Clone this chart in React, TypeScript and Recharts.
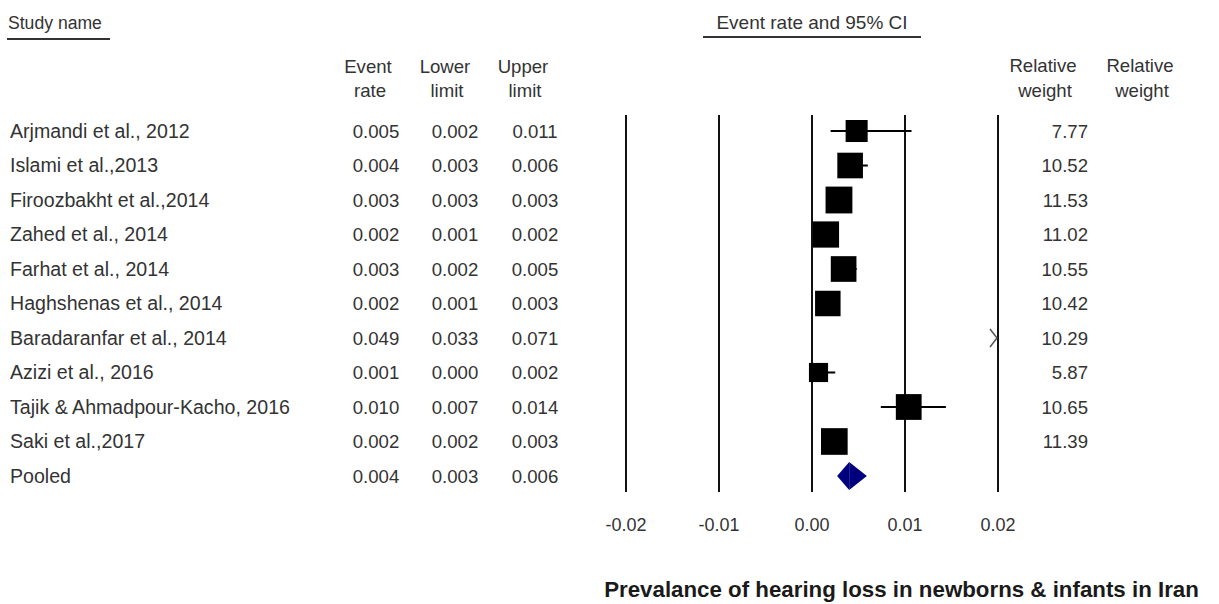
import React from 'react';
import { ScatterChart, Scatter, XAxis, YAxis, ReferenceLine } from 'recharts';

// table text, as printed in the figure
const studyNames = [
  'Arjmandi et al., 2012',
  'Islami et al.,2013',
  'Firoozbakht et al.,2014',
  'Zahed et al., 2014',
  'Farhat et al., 2014',
  'Haghshenas et al., 2014',
  'Baradaranfar et al., 2014',
  'Azizi et al., 2016',
  'Tajik & Ahmadpour-Kacho, 2016',
  'Saki et al.,2017',
  'Pooled',
];
const eventRateText = ['0.005', '0.004', '0.003', '0.002', '0.003', '0.002', '0.049', '0.001', '0.010', '0.002', '0.004'];
const lowerLimitText = ['0.002', '0.003', '0.003', '0.001', '0.002', '0.001', '0.033', '0.000', '0.007', '0.002', '0.003'];
const upperLimitText = ['0.011', '0.006', '0.003', '0.002', '0.005', '0.003', '0.071', '0.002', '0.014', '0.003', '0.006'];
const relativeWeight = [7.77, 10.52, 11.53, 11.02, 10.55, 10.42, 10.29, 5.87, 10.65, 11.39];

// plotted estimates (unrounded)
const pointRate = [0.0048, 0.0041, 0.0029, 0.0015, 0.0034, 0.0017, 0.049, 0.0007, 0.0104, 0.0024];
const pointLower = [0.002, 0.003, 0.0026, 0.001, 0.0024, 0.0011, 0.033, 0.0, 0.0074, 0.0019];
const pointUpper = [0.0107, 0.006, 0.0033, 0.0021, 0.0048, 0.0026, 0.071, 0.0025, 0.0144, 0.003];
const pooledRate = 0.004;
const pooledLower = 0.0027;
const pooledUpper = 0.0059;

const xTicks = [-0.02, -0.01, 0, 0.01, 0.02];
const X_MIN = -0.02;
const X_MAX = 0.02;

const FONT = '"Liberation Sans", Arial, sans-serif';
const TEXT = '#333';
const POOLED_ROW = studyNames.length - 1;
const rowTicks = studyNames.map((_, i) => i);

const studyPoints = pointRate.map((x, i) => ({ x, y: i, w: relativeWeight[i] }));
const overflowPoints = pointRate
  .map((x, i) => ({ x, y: i }))
  .filter((p) => p.x > X_MAX)
  .map((p) => ({ x: X_MAX, y: p.y }));

const RowTick = (props: any) => {
  const { y, payload } = props;
  const i = payload.value;
  return (
    <g fontFamily={FONT} fill={TEXT}>
      <text x={10} y={y} dy="0.35em" fontSize={19.6}>
        {studyNames[i]}
      </text>
      <text x={376} y={y} dy="0.35em" fontSize={18.6} textAnchor="middle">
        {eventRateText[i]}
      </text>
      <text x={455} y={y} dy="0.35em" fontSize={18.6} textAnchor="middle">
        {lowerLimitText[i]}
      </text>
      <text x={535} y={y} dy="0.35em" fontSize={18.6} textAnchor="middle">
        {upperLimitText[i]}
      </text>
      {relativeWeight[i] != null && (
        <text x={1088} y={y} dy="0.35em" fontSize={18.6} textAnchor="end">
          {relativeWeight[i].toFixed(2)}
        </text>
      )}
    </g>
  );
};

const SquareShape = (props: any) => {
  const { cx, cy, payload } = props;
  const side = 7.9 * Math.sqrt(payload.w);
  return <rect x={cx - side / 2} y={cy - side / 2} width={side} height={side} fill="#000" />;
};

const ArrowShape = (props: any) => {
  const { cx, cy } = props;
  return (
    <polyline
      points={`${cx - 8},${cy - 9} ${cx - 1},${cy} ${cx - 8},${cy + 9}`}
      fill="none"
      stroke="#555"
      strokeWidth={1.5}
    />
  );
};

// left and right halves of the pooled diamond
const DiamondLeft = (props: any) => {
  const { x1, y1, x2, y2 } = props;
  return <polygon points={`${x1},${y1} ${x2},${y2 - 14} ${x2},${y2 + 14}`} fill="#00007f" />;
};
const DiamondRight = (props: any) => {
  const { x1, y1, x2, y2 } = props;
  return <polygon points={`${x1},${y1 - 14} ${x2},${y2} ${x1},${y1 + 14}`} fill="#00007f" />;
};

const Headers = () => (
  <g fontFamily={FONT} fill={TEXT} fontSize={18.6}>
    <text x={8} y={23} dy="0.35em" fontSize={17.6}>
      Study name
    </text>
    <line x1={7} x2={110} y1={39} y2={39} stroke="#333" strokeWidth={2} />
    <text x={812} y={22} dy="0.35em" textAnchor="middle" fontSize={19}>
      Event rate and 95% CI
    </text>
    <line x1={703} x2={921} y1={37} y2={37} stroke="#333" strokeWidth={2} />

    <text x={368} y={66} dy="0.35em" textAnchor="middle">Event</text>
    <text x={370} y={90} dy="0.35em" textAnchor="middle">rate</text>
    <text x={445} y={66} dy="0.35em" textAnchor="middle">Lower</text>
    <text x={447} y={90} dy="0.35em" textAnchor="middle">limit</text>
    <text x={523} y={66} dy="0.35em" textAnchor="middle">Upper</text>
    <text x={525} y={90} dy="0.35em" textAnchor="middle">limit</text>
    <text x={1043} y={65} dy="0.35em" textAnchor="middle">Relative</text>
    <text x={1045} y={90} dy="0.35em" textAnchor="middle">weight</text>
    <text x={1140} y={65} dy="0.35em" textAnchor="middle">Relative</text>
    <text x={1142} y={90} dy="0.35em" textAnchor="middle">weight</text>

    <text x={901.5} y={597} fontSize={22.3} fontWeight="bold" fill="#1a1a1a" textAnchor="middle">
      Prevalance of hearing loss in newborns &amp; infants in Iran
    </text>
  </g>
);

export default function App() {
  return (
    <div style={{ position: 'absolute', left: 0, top: 0, fontFamily: FONT }}>
      <ScatterChart width={1219} height={604} margin={{ top: 115, right: 221, bottom: 72, left: 0 }}>
        <XAxis
          type="number"
          dataKey="x"
          domain={[X_MIN, X_MAX]}
          ticks={xTicks}
          allowDataOverflow
          axisLine={false}
          tickLine={false}
          tickMargin={20}
          height={40}
          tick={{ fill: TEXT, fontSize: 18, fontFamily: FONT }}
          tickFormatter={(v: number) => v.toFixed(2)}
        />
        <YAxis
          type="number"
          dataKey="y"
          domain={[-0.464, 10.464]}
          reversed
          allowDataOverflow
          ticks={rowTicks}
          interval={0}
          width={626}
          axisLine={false}
          tickLine={false}
          tick={RowTick}
        />
        {xTicks.map((t) => (
          <ReferenceLine key={t} x={t} stroke="#111" strokeWidth={2} />
        ))}
        {pointRate.map((_, i) => (
          <ReferenceLine
            key={`ci-${i}`}
            segment={[
              { x: pointLower[i], y: i },
              { x: pointUpper[i], y: i },
            ]}
            stroke="#000"
            strokeWidth={2}
            ifOverflow="hidden"
          />
        ))}
        <ReferenceLine
          segment={[
            { x: pooledLower, y: POOLED_ROW },
            { x: pooledRate, y: POOLED_ROW },
          ]}
          shape={DiamondLeft}
        />
        <ReferenceLine
          segment={[
            { x: pooledRate, y: POOLED_ROW },
            { x: pooledUpper, y: POOLED_ROW },
          ]}
          shape={DiamondRight}
        />
        <Scatter data={studyPoints} shape={SquareShape} isAnimationActive={false} />
        <Scatter data={overflowPoints} shape={ArrowShape} isAnimationActive={false} />
        <Headers />
      </ScatterChart>
    </div>
  );
}
